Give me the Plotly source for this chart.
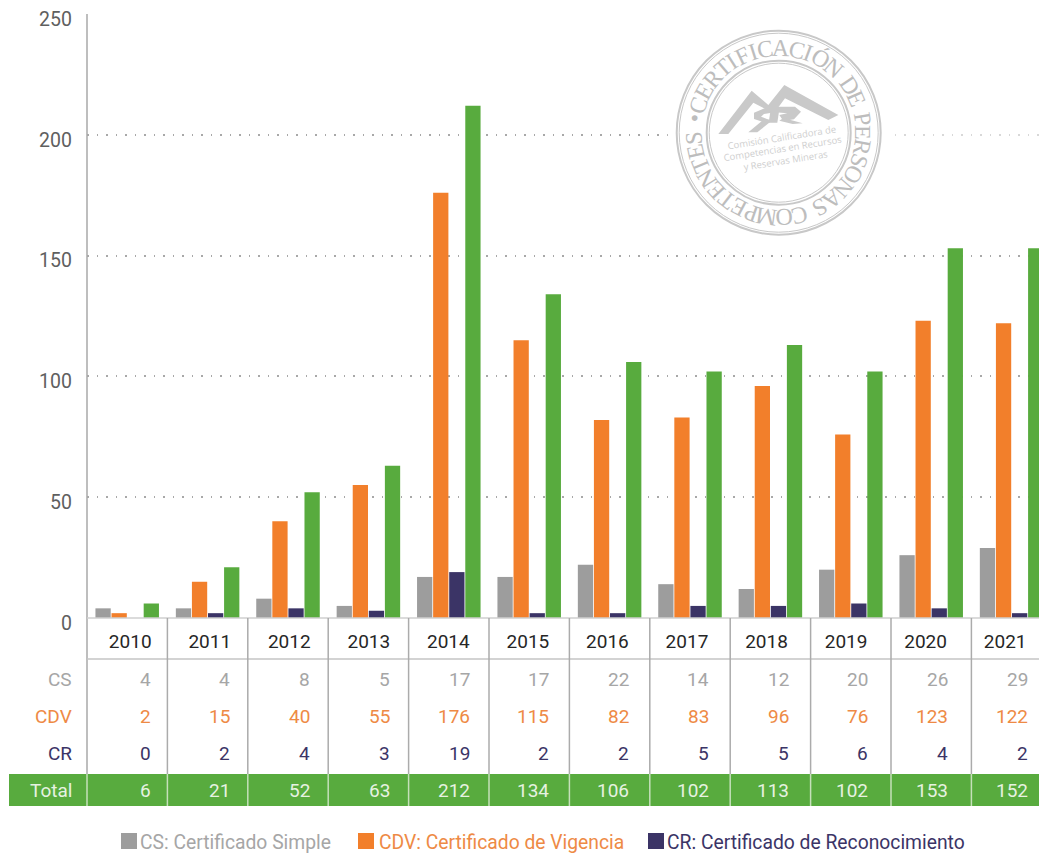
import math
import plotly.graph_objects as go

years = ["2010","2011","2012","2013","2014","2015","2016","2017","2018","2019","2020","2021"]
cs = [4,4,8,5,17,17,22,14,12,20,26,29]
cdv = [2,15,40,55,176,115,82,83,96,76,123,122]
cr = [0,2,4,3,19,2,2,5,5,6,4,2]
total_bars = [6,21,52,63,212,134,106,102,113,102,153,153]
total_labels = [6,21,52,63,212,134,106,102,113,102,153,152]

W, H = 1039, 853
FONT = "Roboto"
GREY, ORANGE, NAVY, GREEN = "#9d9d9d", "#f27f2b", "#3b3466", "#58ab3e"
GREY_T, ORANGE_T = "#a6a6a6", "#ee8a45"
STAMP = "#c8c8c8"
TS = 19

def px(x): return x / W
def py(y): return 1 - y / H

fig = go.Figure()
for name, vals, col in [("CS", cs, GREY), ("CDV", cdv, ORANGE), ("CR", cr, NAVY), ("Total", total_bars, GREEN)]:
    fig.add_bar(x=years, y=vals, name=name, marker=dict(color=col, line_width=0))

shapes, ann = [], []

def line(x0, y0, x1, y1, color, width=1.5, xref="paper"):
    shapes.append(dict(type="line", xref=xref, yref="paper", x0=x0, x1=x1, y0=py(y0), y1=py(y1),
                       line=dict(color=color, width=width)))

def text(s, x, y, color, size=TS, anchor="center", xref="paper", xshift=0, family=FONT, angle=0):
    ann.append(dict(text=s, x=x, y=py(y), xref=xref, yref="paper", xanchor=anchor, yanchor="middle",
                    xshift=xshift, showarrow=False, textangle=angle,
                    font=dict(family=family, size=size, color=color)))

# table frame
line(px(87), 14, px(87), 774, "#a8a8a8", 1.5)
line(px(87), 618, 1, 618, "#cfcfcf", 1.5)
line(px(87), 659, 1, 659, "#c4c4c4", 1.5)
shapes.append(dict(type="rect", xref="paper", yref="paper", x0=px(9), x1=1, y0=py(806), y1=py(774),
                   fillcolor=GREEN, line_width=0))
line(px(87), 774, px(87), 806, "#c5e0ba", 1.5)
for i in range(len(years)):
    line(i + 0.5, 618, i + 0.5, 774, "#ababab", 1.5, xref="x")
    line(i + 0.5, 774, i + 0.5, 806, "#c5e0ba", 1.5, xref="x")

# table rows: the printed columns run slightly tighter than the bar groups
rows = [("CS", cs, GREY_T, 679), ("CDV", cdv, ORANGE_T, 716), ("CR", cr, NAVY, 753),
        ("Total", total_labels, "#e6f2e1", 790)]
for label, vals, col, y in rows:
    text(label, px(74), y, col, anchor="right")
    for i, v in enumerate(vals):
        text(str(v), i, y, col, anchor="right", xref="x", xshift=25.5 - 0.66 * i)

# legend
for x0, col, s, tx, tcol in [(121, GREY, "CS: Certificado Simple", 138, GREY_T),
                             (358, ORANGE, "CDV: Certificado de Vigencia", 377, ORANGE_T),
                             (648, NAVY, "CR: Certificado de Reconocimiento", 665, NAVY)]:
    shapes.append(dict(type="rect", xref="paper", yref="paper", x0=px(x0), x1=px(x0 + 16),
                       y0=py(849), y1=py(833), fillcolor=col, line_width=0))
    text(s, px(tx), 842, tcol, anchor="left", size=19.3)

# certification stamp
cx, cy = 778.7, 132.7
def circle(r, fill=None, color=None, width=0):
    shapes.append(dict(type="circle", xref="paper", yref="paper", x0=px(cx - r), x1=px(cx + r),
                       y0=py(cy + r), y1=py(cy - r), layer="above",
                       fillcolor=fill if fill else "rgba(0,0,0,0)",
                       line=dict(color=color if color else "rgba(0,0,0,0)", width=width)))
circle(111, fill="#ffffff")
circle(102, color=STAMP, width=2)
circle(99.5, color=STAMP, width=1)
circle(72, color=STAMP, width=2)
circle(69.5, color=STAMP, width=1)
shapes.append(dict(type="rect", xref="paper", yref="paper", x0=px(889), x1=1, y0=py(138), y1=py(130),
                   fillcolor="rgba(255,255,255,0.55)", line_width=0, layer="above"))

ring = "CERTIFICACIÓN DE PERSONAS COMPETENTES •"
weights = {"I": 0.62, " ": 0.5, "•": 0.8, "M": 1.25, "F": 0.9, "E": 0.95, "T": 0.95, "S": 0.85,
           "O": 1.1, "N": 1.1, "C": 1.05, "A": 1.1, "Ó": 1.1, "R": 1.05, "D": 1.1, "P": 0.9}
sweep = 360 / sum(weights[c] for c in ring)
pos = -71 - weights["C"] * sweep / 2
for c in ring:
    w = weights[c] * sweep
    th = pos + w / 2
    pos += w
    if c == " ":
        continue
    a = math.radians(th)
    ang = (th + 180) % 360 - 180
    text(c, px(cx + 85 * math.sin(a)), cy - 85 * math.cos(a), "#bdbdbd", size=24,
         family="Liberation Serif", angle=ang)

def poly(points, color="#c9c9c9"):
    d = "M " + " L ".join(f"{px(700 + a / 3):.5f},{py(70 + b / 3):.5f}" for a, b in points) + " Z"
    shapes.append(dict(type="path", xref="paper", yref="paper", path=d, fillcolor=color, line_width=0, layer="above"))

poly([(55,192),(155,62),(205,105),(253,45),(415,135),(385,150),(255,85),(222,130),(160,98),(85,192)])
poly([(162,128),(205,110),(285,110),(303,125),(282,148),(250,153),(238,135),(262,130),(225,127),(192,132),(183,140),(208,150),(195,158),(162,147)])
poly([(192,148),(145,187),(172,187),(218,150)])
poly([(212,118),(238,118),(232,158),(206,158)])
poly([(250,144),(308,160),(278,162),(238,152)])
for s, x, y in [("Comisión Calificadora de", 781.5, 138), ("Competencias en Recursos", 782.5, 149), ("y Reservas Mineras", 785, 160)]:
    text(s, px(x), y, "#cfcfcf", size=9.5, family="Open Sans", angle=-9)

fig.update_layout(
    width=W, height=H, margin=dict(l=0, r=0, t=0, b=0),
    paper_bgcolor="#ffffff", plot_bgcolor="#ffffff",
    barmode="group", bargap=0.2, bargroupgap=0.05, showlegend=False,
    font=dict(family=FONT),
    shapes=shapes, annotations=ann,
    xaxis=dict(domain=[px(87), 1], type="category", range=[-0.5, -0.5 + 952 / 80.4],
               automargin=False, showgrid=False, showline=False, ticks="", ticklen=0,
               tickmode="array", tickvals=[i * 79.54 / 80.4 for i in range(len(years))], ticktext=years,
               ticklabelstandoff=10, ticklabelshift=3,
               tickfont=dict(family=FONT, size=TS, color="#262626")),
    yaxis=dict(domain=[py(618), py(14)], range=[0, 250], tickvals=[0, 50, 100, 150, 200, 250],
               automargin=False, showline=False, zeroline=False, ticks="", ticklen=0, ticklabelstandoff=14,
               ticklabelshift=5,
               showgrid=True, gridcolor="#a8a8a8", gridwidth=1.5, griddash="1.5px,8px",
               tickfont=dict(family=FONT, size=19.5, color="#5f5f5f")),
)

fig.write_html("out.html", config=dict(displayModeBar=False),
               post_script="document.body.style.margin='0';document.body.style.overflow='hidden';")
